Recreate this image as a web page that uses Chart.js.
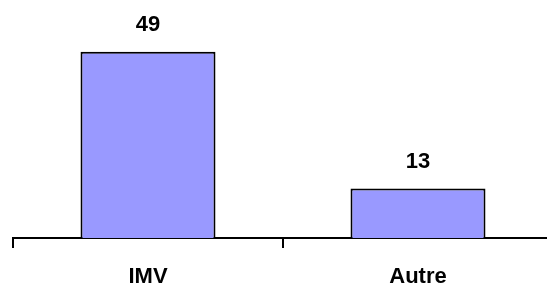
<!DOCTYPE html>
<html>
<head>
<meta charset="utf-8">
<script src="https://cdn.jsdelivr.net/npm/chart.js@4"></script>
<style>
  html, body { margin: 0; padding: 0; background: #fff; overflow: hidden; }
  .wrap { width: 566px; height: 287px; }
</style>
</head>
<body>
<div class="wrap"><canvas id="bar-chart" width="566" height="287"></canvas></div>
<script>
const categories = ['IMV', 'Autre'];
const values = [49, 13];

// draws the value above each bar
const valueLabels = {
  id: 'valueLabels',
  afterDatasetsDraw(chart) {
    const ctx = chart.ctx;
    const meta = chart.getDatasetMeta(0);
    ctx.save();
    ctx.font = 'bold 22px "Liberation Sans", Arial, sans-serif';
    ctx.fillStyle = '#000';
    ctx.textAlign = 'center';
    ctx.textBaseline = 'middle';
    meta.data.forEach((bar, i) => {
      ctx.fillText(values[i], bar.x, bar.y - 27);
    });
    ctx.restore();
  }
};

const ctx = document.getElementById('bar-chart').getContext('2d');
new Chart(ctx, {
  type: 'bar',
  data: {
    labels: categories,
    datasets: [{
      data: values,
      backgroundColor: '#9999FF',
      borderColor: '#000',
      borderWidth: 2,
      borderSkipped: 'bottom',
      categoryPercentage: 1,
      barPercentage: 0.5,
    }],
  },
  options: {
    responsive: false,
    animation: false,
    layout: { padding: { left: 13, right: 13, top: 10, bottom: 0 } },
    plugins: { legend: { display: false }, tooltip: { enabled: false } },
    scales: {
      x: {
        afterFit: (scale) => { scale.height = 49; },
        border: { display: true, color: '#000', width: 2 },
        grid: {
          display: true,
          drawOnChartArea: false,
          drawTicks: true,
          tickLength: 10,
          offset: true,
          color: '#000',
          lineWidth: 2,
        },
        ticks: {
          color: '#000',
          padding: 16,
          font: { family: '"Liberation Sans", Arial, sans-serif', size: 22, weight: 'bold' },
        },
      },
      y: {
        display: false,
        min: 0,
        max: 60,
      },
    },
  },
  plugins: [valueLabels],
});
</script>
</body>
</html>
